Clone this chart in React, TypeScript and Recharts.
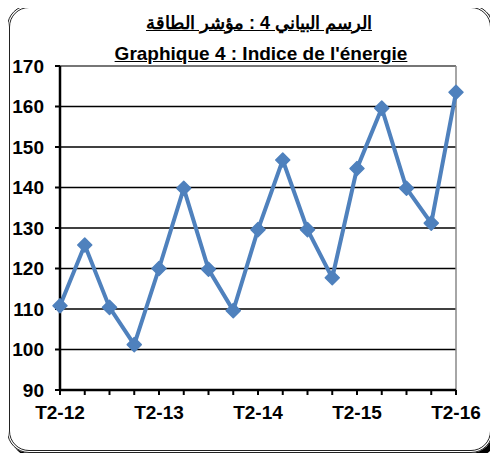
import React from "react";
import { LineChart, Line, XAxis, YAxis, CartesianGrid, ReferenceLine } from "recharts";

const quarters = [
  "T2-12", "T3-12", "T4-12", "T1-13",
  "T2-13", "T3-13", "T4-13", "T1-14",
  "T2-14", "T3-14", "T4-14", "T1-15",
  "T2-15", "T3-15", "T4-15", "T1-16",
  "T2-16",
];
const energyIndex = [
  110.8, 125.8, 110.4, 101.2,
  120, 139.8, 119.8, 109.6,
  129.6, 146.8, 129.6, 117.7,
  144.7, 159.6, 139.8, 131.2,
  163.5,
];
const yTicks = [90, 100, 110, 120, 130, 140, 150, 160, 170];

const data = quarters.map((q, i) => ({ q, v: energyIndex[i] }));

const BLUE = "#4F81BD";
const FONT = "'Liberation Sans', Arial, sans-serif";

function Diamond(props: any) {
  const { cx, cy } = props;
  if (cx == null || cy == null) return null;
  const r = 7;
  return (
    <polygon
      points={`${cx},${cy - r} ${cx + r},${cy} ${cx},${cy + r} ${cx - r},${cy}`}
      fill={BLUE}
      stroke={BLUE}
      strokeWidth={1.5}
      strokeLinejoin="round"
    />
  );
}

function XTick(props: any) {
  const { x, y, payload, index } = props;
  if (index % 4 !== 0) return null;
  return (
    <text x={x} y={y} dy={14} textAnchor="middle" fontFamily={FONT} fontWeight="bold" fontSize={19} fill="#000">
      {payload.value}
    </text>
  );
}

export default function App() {
  return (
    <div style={{ position: "relative", width: 498, height: 461, margin: -8, background: "#fff", overflow: "hidden" }}>
      <div
        style={{
          position: "absolute",
          left: 7,
          top: 5,
          width: 486,
          height: 448,
          boxSizing: "border-box",
          border: "3px double #222",
          borderRadius: 22,
          boxShadow: "4px 4px 0 #000",
        }}
      />
      <div
        style={{
          position: "absolute",
          left: 0,
          width: 518,
          top: 12,
          textAlign: "center",
          fontFamily: FONT,
          fontWeight: "bold",
          fontSize: 18,
          textDecoration: "underline",
          direction: "rtl",
        }}
      >
        الرسم البياني 4 : مؤشر الطاقة
      </div>
      <div
        style={{
          position: "absolute",
          left: 0,
          width: 522,
          top: 43,
          textAlign: "center",
          fontFamily: FONT,
          fontWeight: "bold",
          fontSize: 19,
          textDecoration: "underline",
        }}
      >
        Graphique 4 : Indice de l'énergie
      </div>
      <div style={{ position: "absolute", left: 0, top: 0 }}>
        <LineChart width={498} height={461} data={data} margin={{ top: 66, right: 42, bottom: 40, left: 0 }}>
          <CartesianGrid vertical={false} stroke="#000" strokeWidth={1.5} />
          <ReferenceLine y={170} stroke="#888" strokeWidth={1.5} />
          <ReferenceLine x="T2-16" stroke="#888" strokeWidth={1.5} />
          <XAxis
            dataKey="q"
            interval={0}
            tick={<XTick />}
            tickSize={5}
            tickMargin={10}
            height={31}
            axisLine={{ stroke: "#000", strokeWidth: 2.5 }}
            tickLine={{ stroke: "#000", strokeWidth: 2 }}
          />
          <YAxis
            domain={[90, 170]}
            ticks={yTicks}
            width={60}
            tickSize={5}
            tickMargin={11}
            axisLine={{ stroke: "#000", strokeWidth: 2.5 }}
            tickLine={{ stroke: "#000", strokeWidth: 2 }}
            tick={{ fill: "#000", fontFamily: FONT, fontWeight: "bold", fontSize: 19 }}
          />
          <Line
            type="linear"
            dataKey="v"
            stroke={BLUE}
            strokeWidth={4}
            dot={<Diamond />}
            activeDot={false}
            isAnimationActive={false}
          />
        </LineChart>
      </div>
    </div>
  );
}
